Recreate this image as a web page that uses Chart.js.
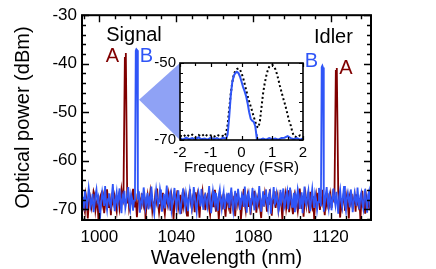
<!DOCTYPE html>
<html>
<head>
<meta charset="utf-8">
<title>Signal / idler spectrum</title>
<style>
  body { margin: 0; background: #fff; }
  #wrap { position: relative; width: 436px; height: 269px; }
  #main { position: absolute; left: 0; top: 0; }
  #inset { position: absolute; left: 140px; top: 50px; }
</style>
</head>
<body>
<div id="wrap">
  <canvas id="main" width="436" height="269"></canvas>
  <canvas id="inset" width="175" height="125"></canvas>
</div>
<script src="https://cdn.jsdelivr.net/npm/chart.js"></script>
<script>
// main spectrum: noise floor sampled every 0.5 nm from 991 nm
const wlStart = 991;
const wlStep = 0.5;

// pump config A (dark red)
const noiseA = [
  -68.2,-67.5,-69.8,-70.6,-67.1,-68.4,-71.9,-69.0,-66.9,-67.8,
  -69.5,-68.1,-66.3,-67.0,-70.2,-68.8,-68.0,-72.0,-69.3,-67.4,
  -66.8,-68.9,-67.6,-70.8,-69.1,-67.9,-65.9,-68.5,-69.7,-68.3,
  -71.2,-67.7,-68.6,-66.5,-67.3,-69.4,-70.5,-68.0,-67.2,-69.9,
  -68.7,-66.0,-67.5,-68.2,-71.4,-69.0,-67.9,-68.8,-66.4,-70.1,
  -69.2,-67.6,-68.4,-65.8,-67.9,-69.6,-68.3,-71.6,-68.9,-67.0,
  -68.1,-70.0,-66.7,-68.5,-69.3,-67.4,-72.1,-68.6,-67.2,-69.8,
  -68.0,-66.2,-67.7,-70.4,-68.9,-69.5,-67.1,-68.3,-65.7,-68.8,
  -70.7,-69.1,-67.6,-68.2,-66.6,-69.4,-71.0,-68.5,-67.8,-69.0,
  -66.9,-68.4,-70.3,-67.3,-68.7,-72.0,-69.2,-67.5,-68.1,-66.1,
  -69.7,-68.6,-67.0,-70.9,-68.0,-69.3,-66.8,-67.9,-69.6,-71.3,
  -68.2,-67.4,-65.9,-68.8,-69.9,-67.7,-68.5,-70.6,-66.5,-68.9,
  -67.2,-69.1,-71.7,-68.4,-67.6,-66.3,-69.5,-68.0,-70.2,-67.8,
  -68.7,-66.6,-69.8,-71.1,-68.3,-67.1,-69.4,-68.6,-66.0,-70.5,
  -67.9,-68.8,-72.1,-69.0,-67.3,-68.1,-70.0,-66.8,-69.2,-71.5,
  -68.4,
  -67.6,-69.3,-68.1,-70.9,-66.4,-68.7,-69.8,-67.2,-71.4,-68.5,
  -66.7,-69.0,-67.9,-68.3,-72.0,-69.6,-67.4,-65.8,-68.9,-70.3,
  -68.0,-66.9,-69.5,-67.7,-71.1,-68.6,-67.0,-69.2,-66.2,-68.4,
  -70.7,-67.8,-68.8,-66.6,-69.9,-71.8,-68.2,-67.3,-69.4,-66.8,
  -68.1,-70.5,-67.5,-69.1,-65.9,-68.7,-71.3,-67.9,-68.4,-66.3,
  -69.7,-68.0,-67.1,-70.2,-68.9,-66.5,-69.3,-72.1,-67.6,-68.5,
  -67.0,-69.8,-68.3,-66.1,-70.6,-68.7,-67.4,-69.5,-71.0,-68.2,
  -66.8,-67.7,-69.0,-70.4,-68.6,-65.7,-68.1,-69.9,-67.2,-71.5,
  -68.4,-66.9,-69.2,-67.8,-68.0,-70.8,-66.4,-68.8,-69.6,-67.3,
  -72.0,-68.5,-67.1,-69.4,-66.6,-68.2,-70.1,-67.9,-68.7,-66.0,
  -69.3,-71.2,-67.5,-68.9,-66.7,-70.0,-68.3,-67.0,-69.7,-68.1,
  -65.9,-68.6,-70.7,-67.4,-69.1,-66.5,-68.4,-71.7,-67.8,-69.5,
  -68.0,-66.3,-70.3,-68.8,-67.2,-69.0,-71.9,-67.6,-68.5,-66.8,
  -69.8,-68.2,-67.1,-70.5,-66.9,-68.7,-69.4,-67.7,-72.1,-68.3,
  -66.2,-69.6,-68.0,-70.9,-67.3,-68.6,-69.2,-66.6,-70.2,-68.1
];
const peakWlA = [1013.25, 1013.5, 1013.75, 1122.75, 1123.0, 1123.25];
const peakDbA = [-38.6, -46.0, -37.8, -41.3, -48.0, -40.9];

// pump config B (blue)
const noiseB = [
  -67.4,-68.9,-69.6,-66.1,-67.8,-70.2,-68.0,-65.6,-67.2,-69.4,
  -68.5,-66.8,-70.6,-69.1,-67.0,-65.9,-68.3,-67.5,-69.8,-71.0,
  -68.2,-66.4,-67.7,-69.3,-65.2,-68.6,-70.1,-67.9,-66.7,-68.8,
  -69.5,-67.1,-64.8,-68.4,-70.4,-68.0,-66.5,-69.0,-67.6,-65.7,
  -68.9,-70.8,-67.3,-68.1,-66.2,-69.7,-68.5,-67.0,-65.4,-68.7,
  -69.9,-66.9,-67.8,-70.3,-68.2,-65.8,-67.4,-69.2,-68.0,-66.3,
  -70.7,-69.0,-67.5,-68.6,-65.5,-67.1,-69.6,-68.3,-66.6,-70.0,
  -67.9,-68.8,-65.3,-67.6,-69.4,-70.9,-68.1,-66.0,-67.7,-69.1,
  -68.4,-65.9,-67.2,-70.5,-68.7,-66.8,-69.8,-67.4,-65.1,-68.5,
  -69.3,-67.0,-66.4,-70.2,-68.9,-67.3,-65.6,-68.0,-69.7,-67.8,
  -66.1,-68.6,-71.0,-69.0,-67.5,-65.7,-68.2,-69.5,-66.7,-67.9,
  -70.4,-68.3,-66.2,-67.6,-69.9,-68.8,-65.4,-67.1,-69.2,-70.6,
  -68.0,-66.5,-67.7,-69.4,-65.8,-68.4,-70.1,-67.2,-66.9,-68.7,
  -69.6,-67.4,-65.2,-68.1,-70.8,-68.9,-66.3,-67.8,-69.0,-66.6,
  -68.5,-70.3,-67.0,-65.9,-68.2,-69.8,-67.6,-66.4,-70.0,-68.6,
  -67.3,
  -68.1,-66.6,-69.7,-67.3,-65.5,-68.8,-70.4,-67.9,-66.2,-69.2,
  -68.4,-65.8,-67.6,-70.1,-68.9,-66.9,-67.4,-69.5,-65.3,-68.2,
  -70.7,-67.1,-66.5,-68.6,-69.9,-67.8,-65.6,-68.3,-70.2,-66.8,
  -67.5,-69.1,-68.0,-65.2,-67.7,-70.5,-68.7,-66.3,-69.4,-67.2,
  -65.9,-68.5,-69.8,-67.0,-66.4,-70.9,-68.1,-67.6,-65.4,-69.0,
  -68.6,-66.7,-67.9,-70.3,-69.3,-66.0,-68.4,-67.3,-65.7,-69.6,
  -68.9,-67.1,-66.2,-70.0,-68.2,-65.5,-67.8,-69.5,-68.0,-66.6,
  -70.6,-67.4,-68.7,-65.9,-67.0,-69.9,-68.3,-66.5,-70.8,-67.7,
  -65.3,-68.6,-69.2,-67.2,-66.1,-68.9,-70.4,-67.5,-65.8,-68.1,
  -69.7,-66.8,-67.9,-70.1,-68.5,-65.6,-67.3,-69.4,-68.0,-66.3,
  -70.5,-68.8,-67.0,-65.4,-68.4,-69.8,-66.9,-67.6,-70.2,-68.2,
  -65.7,-67.8,-69.1,-66.4,-68.7,-70.9,-67.4,-66.0,-68.3,-69.5,
  -67.1,-65.2,-68.9,-70.3,-67.7,-66.6,-68.0,-69.6,-65.9,-67.5,
  -70.6,-68.6,-66.7,-67.9,-69.3,-65.5,-68.1,-70.0,-67.2,-66.5,
  -68.8,-69.9,-67.6,-65.8,-68.4,-70.7,-67.0,-66.2,-69.0,-68.3
];
const peakWlB = [1018.9, 1019.2, 1019.6, 1115.4, 1115.75, 1116.1];
const peakDbB = [-37.3, -37.0, -37.2, -40.7, -40.4, -40.8];

const xTicks = [1000, 1040, 1080, 1120];
const yTicks = [-30, -40, -50, -60, -70];

// inset: transmission around one resonance, frequency in FSR
const insetFreqB = [-2.0,-1.9,-1.8,-1.7,-1.6,-1.5,-1.4,-1.3,-1.2,-1.1,-1.0,-0.9,-0.8,-0.7,-0.6,-0.5,
  -0.45,-0.4,-0.35,-0.3,-0.25,-0.2,-0.15,-0.1,-0.05,0,0.05,0.1,0.15,0.2,0.25,0.3,0.35,0.4,0.45,0.48,
  0.5,0.6,0.7,0.8,0.9,1.0,1.1,1.2,1.3,1.4,1.5,1.6,1.7,1.8,1.9,2.0];
const insetDbB = [-69.6,-69.9,-69.4,-69.8,-69.5,-69.9,-69.3,-69.8,-69.6,-69.9,-69.4,-69.8,-69.5,-69.9,-69.4,-69.7,
  -68.5,-64.0,-58.5,-55.0,-53.3,-52.6,-52.3,-52.6,-53.5,-54.8,-56.2,-57.3,-58.6,-60.5,-62.8,-64.5,-65.0,-65.3,-66.5,-68.5,
  -69.8,-69.9,-69.6,-69.9,-69.5,-69.8,-69.6,-69.9,-69.5,-69.4,-69.0,-69.5,-69.8,-69.5,-69.9,-69.6];

const insetFreqRef = [-2.0,-1.9,-1.8,-1.7,-1.6,-1.5,-1.4,-1.3,-1.2,-1.1,-1.0,-0.9,-0.8,-0.7,-0.6,-0.55,-0.5,
  -0.45,-0.4,-0.35,-0.3,-0.25,-0.2,-0.15,-0.1,-0.05,0,0.05,0.1,0.15,0.2,0.25,0.3,0.35,0.4,0.45,0.5,0.55,
  0.6,0.65,0.7,0.75,0.8,0.85,0.9,0.95,1.0,1.05,1.1,1.15,1.2,1.25,1.3,1.35,1.4,1.45,1.5,1.55,1.6,1.65,1.7,1.8,1.9,2.0];
const insetDbRef = [-68.8,-69.2,-68.5,-69.0,-68.6,-69.3,-68.7,-69.1,-68.4,-69.0,-68.8,-69.2,-68.6,-69.0,-68.9,-69.1,-68.2,
  -66.0,-62.0,-58.0,-55.0,-53.0,-52.0,-51.6,-51.4,-51.7,-52.6,-53.8,-55.3,-57.0,-58.6,-60.0,-61.3,-62.6,-64.0,-65.3,-66.5,-66.8,
  -65.0,-61.5,-58.0,-55.5,-53.5,-52.0,-51.0,-50.6,-50.5,-50.8,-51.6,-52.8,-54.3,-56.0,-57.5,-59.0,-60.3,-61.8,-63.5,-65.0,-66.2,-67.8,-69.0,-69.3,-68.8,-69.2];

const insetXTicks = [-2, -1, 0, 1, 2];
const insetYTicks = [-50, -70];

const red = '#800000';
const blue = '#2f55f7';
const FONT = '"Liberation Sans", Arial, Helvetica, sans-serif';

Chart.defaults.font.family = FONT;
Chart.defaults.color = '#000';

// noise samples right under a peak are replaced by the peak points
function buildSeries(noise, peakWl, peakDb) {
  const pts = noise
    .map((v, i) => ({ x: wlStart + i * wlStep, y: v }))
    .filter(p => !peakWl.some(w => Math.abs(w - p.x) < 0.3));
  peakWl.forEach((w, i) => pts.push({ x: w, y: peakDb[i] }));
  return pts.sort((p, q) => p.x - q.x);
}

function zipPoints(xs, ys) {
  return xs.map((x, i) => ({ x: x, y: ys[i] }));
}

function range(from, to, step) {
  const out = [];
  for (let v = from; v <= to + 1e-9; v += step) out.push(Math.round(v * 100) / 100);
  return out;
}

// box around the plot with inward ticks on all four sides
function frameTicks(o) {
  return {
    id: 'frameTicks',
    afterDatasetsDraw(chart) {
      const { ctx, chartArea: a, scales: { x, y } } = chart;
      ctx.save();
      ctx.strokeStyle = '#000';
      ctx.lineWidth = o.tickWidth;
      ctx.beginPath();
      o.xMinor.forEach(v => {
        const px = Math.round(x.getPixelForValue(v)) + 0.5;
        const len = o.xMajor.includes(v) ? o.major : o.minor;
        ctx.moveTo(px, a.bottom); ctx.lineTo(px, a.bottom - len);
        ctx.moveTo(px, a.top); ctx.lineTo(px, a.top + len);
      });
      o.yMinor.forEach(v => {
        const py = Math.round(y.getPixelForValue(v)) + 0.5;
        const len = o.yMajor.includes(v) ? o.major : o.minor;
        ctx.moveTo(a.left, py); ctx.lineTo(a.left + len, py);
        ctx.moveTo(a.right, py); ctx.lineTo(a.right - len, py);
      });
      ctx.stroke();
      ctx.lineWidth = o.frameWidth;
      ctx.strokeRect(a.left, a.top, a.right - a.left, a.bottom - a.top);
      ctx.restore();
    }
  };
}

const whiteArea = {
  id: 'whiteArea',
  beforeDatasetsDraw(chart) {
    const { ctx, chartArea: a } = chart;
    ctx.save();
    ctx.fillStyle = '#fff';
    ctx.fillRect(a.left, a.top, a.right - a.left, a.bottom - a.top);
    ctx.restore();
  }
};

// ---- inset ----
const insetCanvas = document.getElementById('inset');
const insetChart = new Chart(insetCanvas, {
  type: 'scatter',
  data: {
    datasets: [
      { data: zipPoints(insetFreqB, insetDbB), showLine: true, borderColor: blue, borderWidth: 2, pointRadius: 0 },
      { data: zipPoints(insetFreqRef, insetDbRef), showLine: true, borderColor: '#000', borderWidth: 2,
        borderDash: [2, 2.5], pointRadius: 0 }
    ]
  },
  options: {
    responsive: false,
    animation: false,
    layout: { padding: { top: 13, right: 12, left: 0, bottom: 0 } },
    plugins: { legend: { display: false }, tooltip: { enabled: false } },
    scales: {
      x: {
        type: 'linear', min: -2, max: 2,
        afterBuildTicks: s => { s.ticks = insetXTicks.map(v => ({ value: v })); },
        afterFit: s => { s.height = 35; },
        grid: { display: false, drawTicks: false },
        border: { display: false },
        ticks: { padding: 4, font: { size: 15 }, maxRotation: 0, autoSkip: false, callback: v => String(v) },
        title: { display: true, text: 'Frequency (FSR)', font: { size: 15, lineHeight: 1 }, padding: { top: 0, bottom: 0 } }
      },
      y: {
        min: -70, max: -50,
        afterBuildTicks: s => { s.ticks = insetYTicks.map(v => ({ value: v })); },
        afterFit: s => { s.width = 40; },
        grid: { display: false, drawTicks: false },
        border: { display: false },
        ticks: { padding: 4, font: { size: 15 }, autoSkip: false, callback: v => String(v) }
      }
    }
  },
  plugins: [whiteArea, frameTicks({
    xMinor: range(-2, 2, 0.5), xMajor: insetXTicks,
    yMinor: range(-70, -50, 2.5), yMajor: [-50, -60, -70],
    major: 4, minor: 3, tickWidth: 1.2, frameWidth: 1.6
  })]
});

// ---- main ----
const notes = [
  { text: 'Signal', wl: 1018.0, db: -34.1, color: '#000' },
  { text: 'A', wl: 1006.8, db: -38.5, color: red },
  { text: 'B', wl: 1024.5, db: -38.5, color: blue },
  { text: 'Idler', wl: 1121.5, db: -34.6, color: '#000' },
  { text: 'B', wl: 1110.1, db: -39.5, color: blue },
  { text: 'A', wl: 1128.0, db: -40.9, color: red }
];

const noteLabels = {
  id: 'noteLabels',
  afterDatasetsDraw(chart) {
    const { ctx, scales: { x, y } } = chart;
    ctx.save();
    ctx.font = '20px ' + FONT;
    ctx.textAlign = 'center';
    ctx.textBaseline = 'middle';
    notes.forEach(n => {
      ctx.fillStyle = n.color;
      ctx.fillText(n.text, x.getPixelForValue(n.wl), y.getPixelForValue(n.db));
    });
    ctx.restore();
  }
};

// light blue wedge from the signal peak to the inset
const pointer = {
  id: 'pointer',
  afterDatasetsDraw(chart) {
    const { ctx, scales: { x, y } } = chart;
    const ia = insetChart.chartArea;
    const ox = insetCanvas.offsetLeft, oy = insetCanvas.offsetTop;
    ctx.save();
    ctx.fillStyle = '#8fa2f5';
    ctx.beginPath();
    ctx.moveTo(x.getPixelForValue(1020.6), y.getPixelForValue(-47.4));
    ctx.lineTo(ox + ia.left, oy + ia.top);
    ctx.lineTo(ox + ia.left, oy + ia.bottom);
    ctx.closePath();
    ctx.fill();
    ctx.restore();
  }
};

new Chart(document.getElementById('main'), {
  type: 'scatter',
  data: {
    datasets: [
      { data: buildSeries(noiseB, peakWlB, peakDbB), showLine: true, borderColor: blue, borderWidth: 1.8, pointRadius: 0 },
      { data: buildSeries(noiseA, peakWlA, peakDbA), showLine: true, borderColor: red, borderWidth: 1.8, pointRadius: 0 }
    ]
  },
  options: {
    responsive: false,
    animation: false,
    layout: { padding: { top: 14, right: 65, left: 0, bottom: 0 } },
    plugins: { legend: { display: false }, tooltip: { enabled: false } },
    scales: {
      x: {
        type: 'linear', min: 991, max: 1141,
        afterBuildTicks: s => { s.ticks = xTicks.map(v => ({ value: v })); },
        afterFit: s => { s.height = 49; },
        grid: { display: false, drawTicks: false },
        border: { display: false },
        ticks: { padding: 7, font: { size: 17 }, maxRotation: 0, autoSkip: false, callback: v => String(v) },
        title: { display: true, text: 'Wavelength (nm)', font: { size: 20, lineHeight: 1 }, padding: { top: 0, bottom: 1 } }
      },
      y: {
        min: -72.2, max: -30,
        afterBuildTicks: s => { s.ticks = yTicks.map(v => ({ value: v })); },
        afterFit: s => { s.width = 82; },
        grid: { display: false, drawTicks: false },
        border: { display: false },
        ticks: { padding: 5, font: { size: 17 }, autoSkip: false, callback: v => String(v) },
        title: { display: true, text: 'Optical power (dBm)', font: { size: 20, lineHeight: 1 }, padding: { top: 13, bottom: 0 } }
      }
    }
  },
  plugins: [pointer, frameTicks({
    xMinor: range(992, 1140, 8), xMajor: xTicks,
    yMinor: range(-72, -30, 2), yMajor: yTicks,
    major: 7, minor: 4, tickWidth: 1.4, frameWidth: 2
  }), noteLabels]
});
</script>
</body>
</html>
